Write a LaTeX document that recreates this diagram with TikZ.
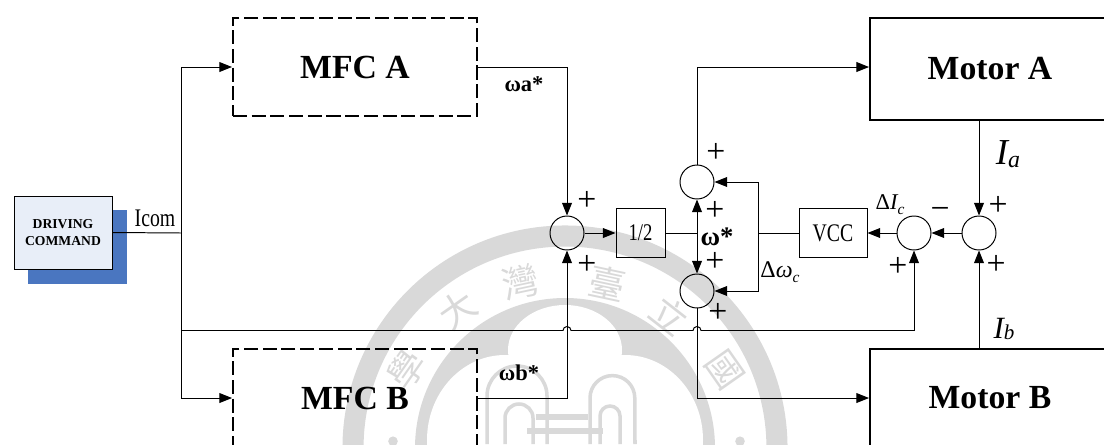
\documentclass[tikz,border=0pt]{standalone}
\usepackage{fontspec}
\usepackage{tikz}
\usepackage{xcolor}
\usetikzlibrary{positioning, arrows.meta, calc}
\setmainfont{Liberation Serif}
\newfontfamily\narrowfont[FakeStretch=0.78]{Liberation Serif}
\newfontfamily\sealfont{Noto Sans CJK TC}
\definecolor{mFace}{HTML}{E8EEF8}
\definecolor{mShade}{HTML}{4A76C0}
\definecolor{mSeal}{HTML}{D9D9D9}
\newcommand{\fsz}[1]{\fontsize{#1}{#1}\selectfont}

\begin{document}
\begin{tikzpicture}[
  sig/.style={-{Triangle[length=9pt,width=7pt]}, line width=0.7pt},
  wire/.style={line width=0.7pt},
  mfcbox/.style={draw, dash pattern=on 10pt off 3.3pt, line width=1.4pt, minimum width=6.1cm,
                 minimum height=2.45cm, font=\fsz{24}\bfseries},
  motorbox/.style={draw, line width=1.4pt, minimum width=6cm, font=\fsz{24}\bfseries},
  gainbox/.style={draw, line width=0.7pt, minimum height=1.225cm, inner sep=0pt},
  summer/.style={draw, fill=none, circle, line width=0.7pt, minimum size=0.85cm, inner sep=0pt},
  pluslab/.style={font=\fsz{24}, inner sep=0pt},
  starlab/.style={font=\fsz{16}\bfseries, inner sep=0pt},
  seal/.style={font=\sealfont\fsz{26}, text=mSeal, inner sep=0pt},
]
  \useasboundingbox (0,0) rectangle (27.6,11.1);
  \clip (0,0) rectangle (27.6,11.1);

  % seal behind the diagram
  \draw[mSeal, line width=15pt] (14.125,-0.1) circle (5.3);
  \fill[mSeal] (14.125,-0.1) circle (3.75);
  \fill[white] (14.125,2.35) ellipse (1.425 and 1.125);
  \fill[white] (12.625,0.1) ellipse (1.95 and 2.125);
  \fill[white] (15.625,0.1) ellipse (1.95 and 2.125);
  \draw[mSeal, line width=2.5pt] (12.175,0) -- (12.175,1.2) arc[start angle=180, end angle=0, radius=0.75] -- (13.675,0);
  \draw[mSeal, line width=2.5pt] (12.625,0) -- (12.625,0.65) arc[start angle=180, end angle=0, radius=0.35] -- (13.325,0);
  \draw[mSeal, line width=2.5pt] (14.75,0) -- (14.75,1.15) arc[start angle=180, end angle=0, radius=0.56] -- (15.875,0);
  \draw[mSeal, line width=2.5pt] (15,0) -- (15,0.7) arc[start angle=180, end angle=0, radius=0.25] -- (15.5,0);
  \fill[mSeal] (13.4,0.6) rectangle (14.7,0.75);
  \fill[mSeal] (13.175,0.25) rectangle (15.075,0.4);
  \fill[mSeal] (9.825,0.07) circle (0.12);
  \fill[mSeal] (18.5,0.07) circle (0.12);
  \node[seal, rotate=55] (sealxue) at (10.175,1.85) {學};
  \node[seal, rotate=35] (sealda) at (11.425,3.35) {大};
  \node[seal, rotate=12] (sealwan) at (13,4.05) {灣};
  \node[seal, rotate=-12] (sealtai) at (15.175,4.025) {臺};
  \node[seal, rotate=-38] (seallih) at (16.75,3.225) {立};
  \node[seal, rotate=-55] (sealguo) at (18.125,1.85) {國};

  % blocks
  \node[fill=mShade, minimum width=2.475cm, minimum height=1.85cm] (drvshade) at (1.9375,4.925) {};
  \node[draw, fill=mFace, line width=0.7pt, minimum width=2.45cm, minimum height=1.825cm,
        align=center, font=\fontsize{9.7}{11.5}\selectfont\bfseries, inner sep=0pt] (drv) at (1.575,5.2875) {DRIVING\\COMMAND};
  \node[mfcbox] (mfca) at (8.875,9.425) {MFC A};
  \node[mfcbox] (mfcb) at (8.875,1.15) {MFC B};
  \node[motorbox, minimum height=2.55cm] (mota) at (24.75,9.375) {Motor A};
  \node[motorbox, minimum height=2.45cm] (motb) at (24.75,1.15) {Motor B};
  \node[gainbox, minimum width=1.225cm, font=\narrowfont\fsz{17}] (half) at (16.0125,5.275) {1/2};
  \node[gainbox, minimum width=1.7cm, font=\narrowfont\fsz{18}] (vcc) at (20.825,5.275) {VCC};
  \node[summer] (sumin) at (14.175,5.275) {};
  \node[summer] (sumup) at (17.425,6.55) {};
  \node[summer] (sumlo) at (17.425,3.825) {};
  \node[summer] (sumerr) at (22.85,5.275) {};
  \node[summer] (sumcur) at (24.475,5.275) {};

  \coordinate (tap) at (4.525,5.275);
  \coordinate (star) at (17.425,5.275);
  \coordinate (bus) at (18.95,5.275);
  \coordinate (crossl) at (4.525,2.8375);
  \coordinate (jumpa) at (14.075,2.8375);
  \coordinate (jumpb) at (17.325,2.8375);
  \coordinate (crossr) at (22.85,2.8375);

  % connectors
  \draw[wire] (drv.east) -- (tap);
  \draw[sig] (tap) |- (mfca.west);
  \draw[sig] (tap) |- (mfcb.west);
  \draw[sig] (mfca.east) -| (sumin.north);
  \draw[sig] (mfcb.east) -| (sumin.south);
  \draw[sig] (sumin.east) -- (half.west);
  \draw[wire] (half.east) -- (star);
  \draw[sig] (star) -- (sumup.south);
  \draw[sig] (star) -- (sumlo.north);
  \draw[sig] (sumup.north) |- (mota.west |- mfca.east);
  \draw[sig] (sumlo.south) |- (motb.west);
  \draw[wire] (vcc.west) -- (bus);
  \draw[sig] (bus) |- (sumup.east);
  \draw[sig] (bus) |- (sumlo.east);
  \draw[sig] (sumerr.west) -- (vcc.east);
  \draw[sig] (sumcur.west) -- (sumerr.east);
  \draw[sig] (sumcur |- mota.south) -- (sumcur.north);
  \draw[sig] (sumcur |- motb.north) -- (sumcur.south);
  \draw[wire] (crossl) -- (jumpa) arc[start angle=180, end angle=0, radius=0.1]
    -- (jumpb) arc[start angle=180, end angle=0, radius=0.1] -- (crossr);
  \draw[sig] (crossr) -- (sumerr.south);

  % labels
  \node[font=\narrowfont\fsz{18}, inner sep=0pt] (icom) at (3.875,5.65) {Icom};
  \node[starlab] (omegaa) at (13.1,9) {ωa*};
  \node[starlab] (omegab) at (12.975,1.775) {ωb*};
  \node[font=\fsz{19}\bfseries, inner sep=0pt] (omegastar) at (17.925,5.175) {ω*};
  \node[inner sep=0pt] (cura) at (25.2,7.25) {\fsz{26}\itshape I\raisebox{-0.1em}{\fsz{17}a}};
  \node[inner sep=0pt] (curb) at (25.1,2.88) {\fsz{22}\itshape I\raisebox{-0.05em}{\fsz{15}b}};
  \node[inner sep=0pt] (delcur) at (22.25,5.98) {\fsz{16}Δ\itshape I\raisebox{-0.2em}{\fsz{11}c}};
  \node[inner sep=0pt] (delome) at (19.5,4.3) {\fsz{17}Δ\itshape ω\raisebox{-0.2em}{\fsz{11}c}};
  \node[pluslab] (pa) at (14.675,6.075) {+};
  \node[pluslab] (pb) at (14.675,4.475) {+};
  \node[pluslab] (pc) at (17.9,7.275) {+};
  \node[pluslab] (pd) at (17.875,5.825) {+};
  \node[pluslab] (pe) at (17.875,4.55) {+};
  \node[pluslab] (pf) at (17.95,3.275) {+};
  \node[pluslab] (pg) at (24.95,5.95) {+};
  \node[pluslab] (ph) at (24.9,4.475) {+};
  \node[pluslab] (pi) at (22.45,4.425) {+};
  \node[pluslab] (mn) at (23.5,5.775) {−};
\end{tikzpicture}
\end{document}
